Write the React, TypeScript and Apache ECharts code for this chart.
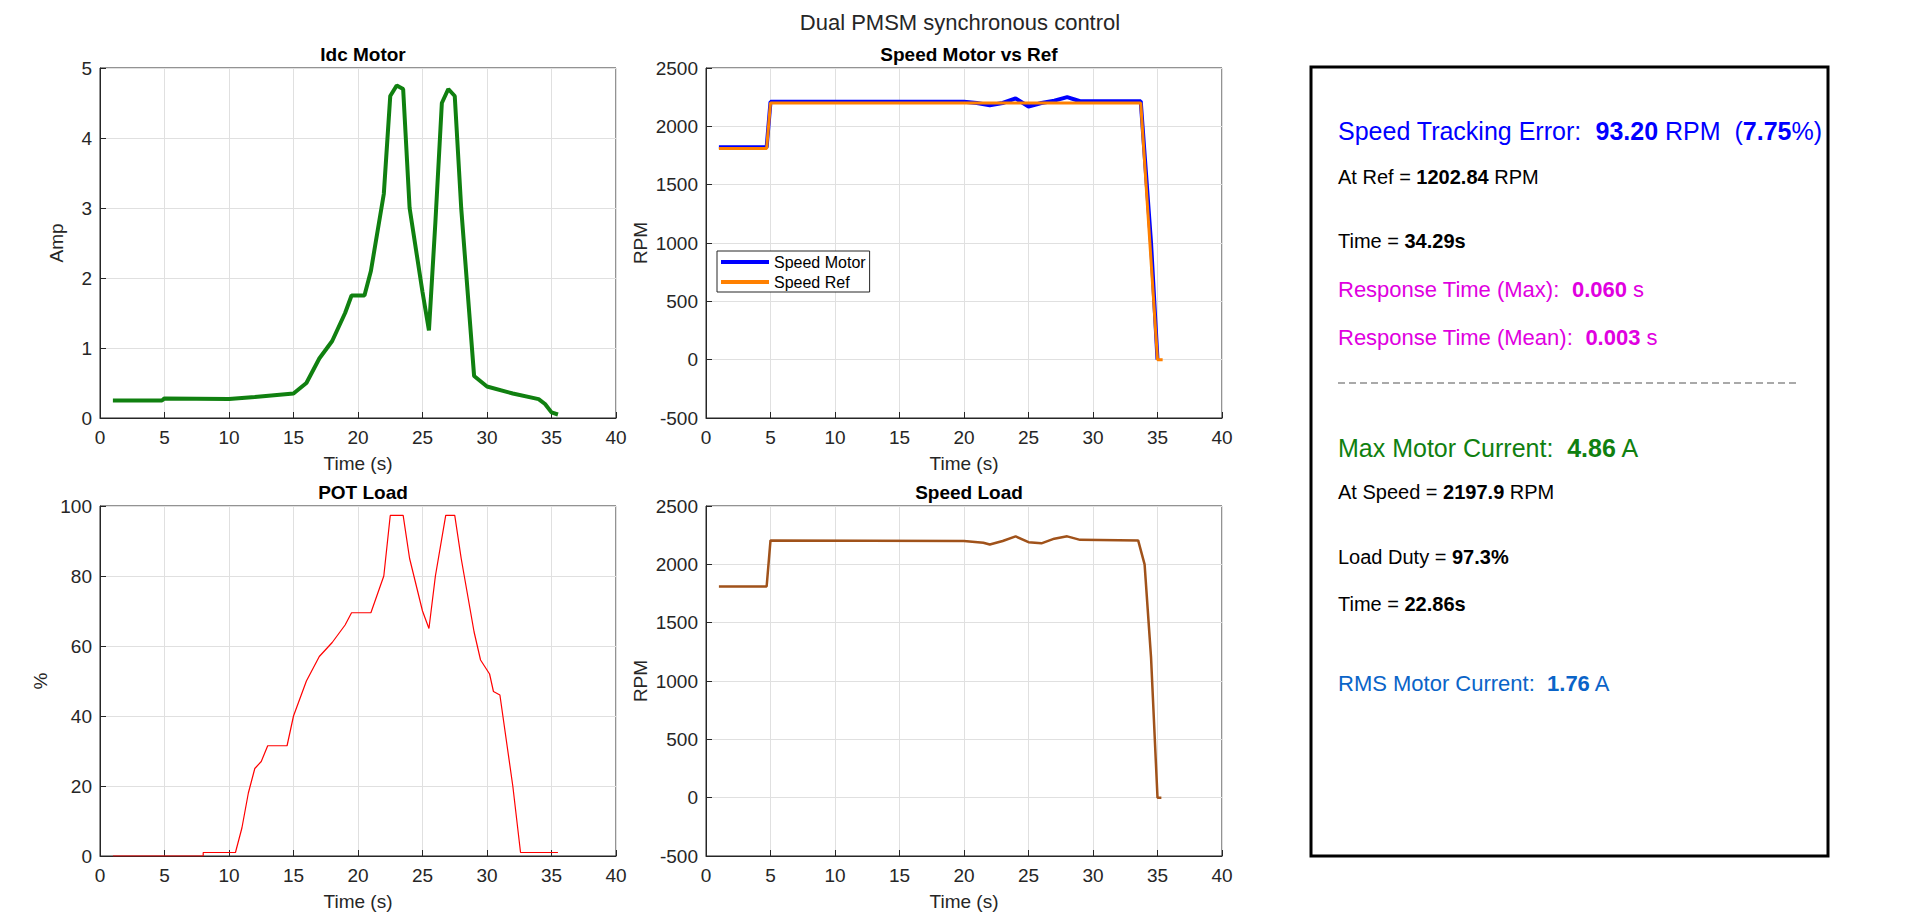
import React, { useEffect, useRef } from 'react';
import * as echarts from 'echarts';

// Idc Motor (A)
const idcTime = [1, 4.8, 5, 10, 12, 15, 16, 17, 18, 19, 19.5, 20.5, 21, 22, 22.5, 23, 23.5, 24, 25, 25.5, 26, 26.5, 27, 27.5, 28, 29, 30, 32, 34, 34.5, 35, 35.5];
const idcValues = [0.25, 0.25, 0.28, 0.27, 0.3, 0.35, 0.5, 0.85, 1.1, 1.5, 1.75, 1.75, 2.1, 3.2, 4.6, 4.75, 4.7, 3.0, 1.8, 1.25, 2.8, 4.5, 4.7, 4.6, 3.0, 0.6, 0.45, 0.35, 0.27, 0.2, 0.08, 0.05];

// Speed Motor vs Ref (RPM)
const motorTime = [1, 4.7, 5, 20, 21, 22, 23, 24, 25, 26, 27, 28, 29, 33.7, 34.5, 35];
const motorValues = [1820, 1820, 2210, 2210, 2200, 2180, 2200, 2240, 2170, 2200, 2220, 2250, 2215, 2215, 1000, 0];
const refTime = [1, 4.7, 5, 33.7, 35, 35.4];
const refValues = [1810, 1810, 2200, 2200, 0, 0];

// POT Load (%)
const potTime = [1, 8, 8, 10.5, 11, 11.5, 12, 12.5, 13, 14.5, 15, 16, 17, 18, 19, 19.5, 21, 22, 22.5, 23.5, 24, 25, 25.5, 26, 26.8, 27.5, 28, 29, 29.5, 30.2, 30.5, 31, 32, 32.6, 35.5];
const potValues = [0, 0, 1, 1, 8, 18, 25, 27, 31.5, 31.5, 40, 50, 57, 61, 66, 69.5, 69.5, 80, 97.3, 97.3, 85, 70, 65, 80, 97.3, 97.3, 85, 64, 56, 52, 47, 46, 20, 1, 1];

// Speed Load (RPM)
const loadTime = [1, 4.7, 5, 20, 21.5, 22, 23, 24, 25, 26, 27, 28, 29, 33.5, 34, 34.5, 35, 35.3];
const loadValues = [1810, 1810, 2205, 2200, 2185, 2170, 2200, 2240, 2190, 2180, 2220, 2240, 2210, 2205, 2000, 1200, 0, 0];

const FONT = 'Liberation Sans, Arial, sans-serif';
const zip = (t: number[], v: number[]) => t.map((x, i) => [x, v[i]]);

const App: React.FC = () => {
  const chartRef = useRef<HTMLDivElement>(null);

  useEffect(() => {
    document.body.style.margin = '0';
    if (!chartRef.current) return;
    const chart = echarts.init(chartRef.current, undefined, { renderer: 'svg' });

    const grids = [
      { left: 100, top: 68, width: 516, height: 350 },
      { left: 706, top: 68, width: 516, height: 350 },
      { left: 100, top: 506, width: 516, height: 350 },
      { left: 706, top: 506, width: 516, height: 350 },
    ];

    const xAxis = grids.map((_, i) => ({
      type: 'value', gridIndex: i, min: 0, max: 40, interval: 5,
      name: 'Time (s)', nameLocation: 'middle', nameGap: 36,
      nameTextStyle: { fontFamily: FONT, fontSize: 19, color: '#262626' },
      axisLine: { onZero: false, lineStyle: { color: '#262626' } },
      axisTick: { inside: true, length: 6, lineStyle: { color: '#262626' } },
      axisLabel: { fontFamily: FONT, fontSize: 19, color: '#262626', margin: 10 },
      splitLine: { show: true, lineStyle: { color: '#e0e0e0' } },
    }));
    const yCfg = [
      { min: 0, max: 5, interval: 1, name: 'Amp', gap: 34 },
      { min: -500, max: 2500, interval: 500, name: 'RPM', gap: 56 },
      { min: 0, max: 100, interval: 20, name: '%', gap: 50 },
      { min: -500, max: 2500, interval: 500, name: 'RPM', gap: 56 },
    ];
    const yAxis = yCfg.map((c, i) => ({
      type: 'value', gridIndex: i, min: c.min, max: c.max, interval: c.interval,
      name: c.name, nameLocation: 'middle', nameGap: c.gap,
      nameTextStyle: { fontFamily: FONT, fontSize: 19, color: '#262626' },
      axisLine: { show: true, onZero: false, lineStyle: { color: '#262626' } },
      axisTick: { show: true, inside: true, length: 6, lineStyle: { color: '#262626' } },
      axisLabel: { fontFamily: FONT, fontSize: 19, color: '#262626', margin: 8, formatter: (v: number) => String(v) },
      splitLine: { show: true, lineStyle: { color: '#e0e0e0' } },
    }));

    const titles = ['Idc Motor', 'Speed Motor vs Ref', 'POT Load', 'Speed Load'];
    const txt = (x: number, y: number, parts: [string, string?][], color: string, size: number) => ({
      type: 'text', left: x, top: y, z: 10,
      style: {
        text: parts.map(([s, b]) => (b ? `{b|${s}}` : `{n|${s}}`)).join(''),
        rich: {
          n: { fontFamily: FONT, fontSize: size, fill: color, color },
          b: { fontFamily: FONT, fontSize: size, fontWeight: 'bold', fill: color, color },
        },
      },
    });

    chart.setOption({
      animation: false,
      title: [
        { text: 'Dual PMSM synchronous control', left: 'center', top: 6, textStyle: { fontFamily: FONT, fontSize: 22, fontWeight: 'normal', color: '#262626' } },
        ...titles.map((t, i) => ({
          text: t, left: grids[i].left + grids[i].width / 2, textAlign: 'center', top: grids[i].top - 28,
          textStyle: { fontFamily: FONT, fontSize: 19, fontWeight: 'bold', color: '#000' },
        })),
      ],
      grid: grids.map((g) => ({ ...g, show: true, borderColor: '#262626', borderWidth: 1, backgroundColor: '#fff' })),
      xAxis,
      yAxis,
      legend: {
        data: ['Speed Motor', 'Speed Ref'], orient: 'vertical', left: 717, top: 251,
        itemWidth: 48, itemHeight: 4, itemGap: 4, padding: [3, 4, 2, 4],
        borderColor: '#262626', borderWidth: 1, backgroundColor: '#fff',
        textStyle: { fontFamily: FONT, fontSize: 16, color: '#000' },
        icon: 'rect',
      },
      series: [
        { name: 'Idc', type: 'line', xAxisIndex: 0, yAxisIndex: 0, data: zip(idcTime, idcValues), showSymbol: false, lineStyle: { color: '#108010', width: 4 }, itemStyle: { color: '#108010' } },
        { name: 'Speed Motor', type: 'line', xAxisIndex: 1, yAxisIndex: 1, data: zip(motorTime, motorValues), showSymbol: false, lineStyle: { color: '#0000ff', width: 4 }, itemStyle: { color: '#0000ff' } },
        { name: 'Speed Ref', type: 'line', xAxisIndex: 1, yAxisIndex: 1, data: zip(refTime, refValues), showSymbol: false, lineStyle: { color: '#ff8000', width: 3 }, itemStyle: { color: '#ff8000' } },
        { name: 'POT', type: 'line', xAxisIndex: 2, yAxisIndex: 2, data: zip(potTime, potValues), showSymbol: false, lineStyle: { color: '#ff0000', width: 1.2 }, itemStyle: { color: '#ff0000' } },
        { name: 'Load', type: 'line', xAxisIndex: 3, yAxisIndex: 3, data: zip(loadTime, loadValues), showSymbol: false, lineStyle: { color: '#a0521a', width: 2.5 }, itemStyle: { color: '#a0521a' } },
      ],
      graphic: [
        { type: 'rect', shape: { x: 1311, y: 67, width: 517, height: 789 }, style: { fill: '#fff', stroke: '#000', lineWidth: 3 } },
        { type: 'line', shape: { x1: 1338, y1: 383, x2: 1800, y2: 383 }, style: { stroke: '#555', lineWidth: 1.2, lineDash: [7, 4] } },
        txt(1338, 118, [['Speed Tracking Error:  '], ['93.20', 'b'], [' RPM  ('], ['7.75', 'b'], ['%)']], '#0000ff', 25),
        txt(1338, 167, [['At Ref = '], ['1202.84', 'b'], [' RPM']], '#000', 20),
        txt(1338, 231, [['Time = '], ['34.29s', 'b']], '#000', 20),
        txt(1338, 278, [['Response Time (Max):  '], ['0.060', 'b'], [' s']], '#e000e0', 22),
        txt(1338, 326, [['Response Time (Mean):  '], ['0.003', 'b'], [' s']], '#e000e0', 22),
        txt(1338, 435, [['Max Motor Current:  '], ['4.86', 'b'], [' A']], '#108010', 25),
        txt(1338, 482, [['At Speed = '], ['2197.9', 'b'], [' RPM']], '#000', 20),
        txt(1338, 547, [['Load Duty = '], ['97.3%', 'b']], '#000', 20),
        txt(1338, 594, [['Time = '], ['22.86s', 'b']], '#000', 20),
        txt(1338, 672, [['RMS Motor Current:  '], ['1.76', 'b'], [' A']], '#0a64c8', 22),
      ],
    });

    return () => chart.dispose();
  }, []);

  return <div ref={chartRef} style={{ width: 1920, height: 916, background: '#fff' }} />;
};

export default App;
